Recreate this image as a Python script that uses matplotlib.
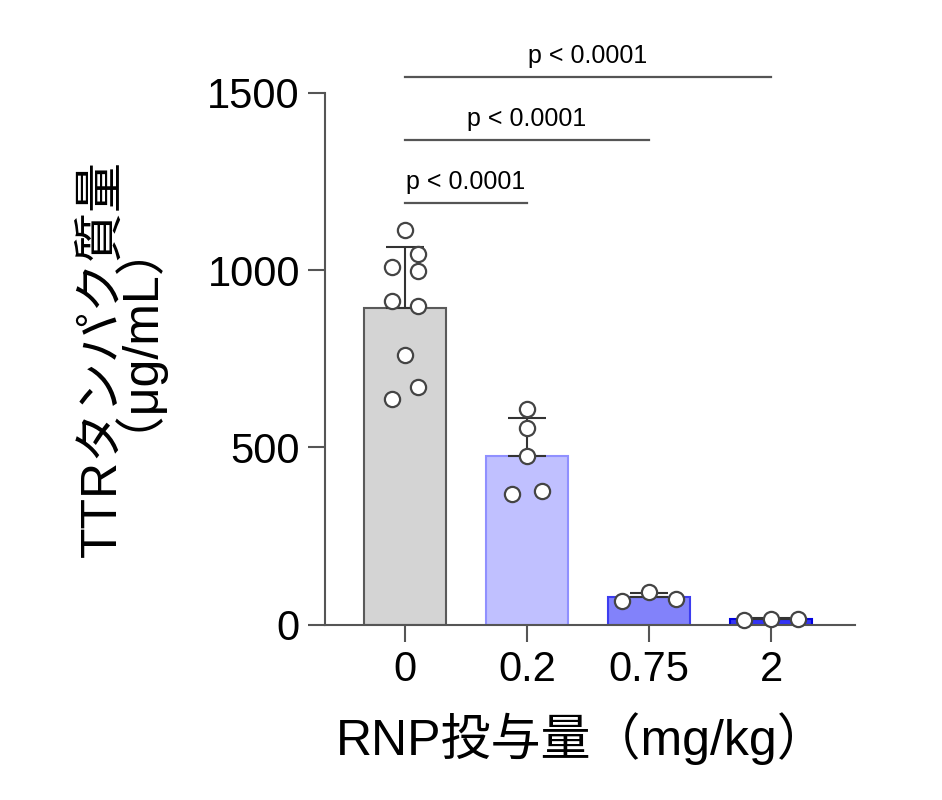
import numpy as np
import matplotlib
matplotlib.use("Agg")
import matplotlib.pyplot as plt

plt.rcParams['font.family'] = ['Liberation Sans', 'Noto Sans CJK JP', 'DejaVu Sans']

# data
doses = ["0", "0.2", "0.75", "2"]
means = [894, 477, 78, 16]
sds = [172, 107, 13, 2]
points = [
    [1113, 1046, 1010, 998, 913, 899, 761, 671, 637],
    [609, 555, 476, 369, 378],
    [68, 93, 73],
    [14, 17, 17],
]
# small horizontal offsets of the dots, in category units
jitter = [
    [0.0, 0.11, -0.11, 0.11, -0.11, 0.11, 0.0, 0.11, -0.11],
    [0.0, 0.0, 0.0, -0.12, 0.12],
    [-0.22, 0.0, 0.22],
    [-0.22, 0.0, 0.22],
]
face_colors = ["#d4d4d4", "#c0c0ff", "#8282fa", "#3434f5"]
edge_colors = ["#5a5a5a", "#9090ff", "#3c3cf0", "#0000e0"]
comparisons = [(0, 1, 1190), (0, 2, 1367), (0, 3, 1545)]
p_text = "p < 0.0001"

fig = plt.figure(figsize=(9.42, 8), dpi=100)
ax = fig.add_axes([0.345, 0.219, 0.563, 0.665])

x = np.arange(len(doses))
ax.bar(x, means, width=0.67, color=face_colors, edgecolor=edge_colors,
       linewidth=1.5, zorder=1)
for i in range(len(doses)):
    ax.errorbar(x[i], means[i], yerr=[[0], [sds[i]]], fmt="none",
                ecolor="#333333", elinewidth=1.5, capsize=14, capthick=1.5,
                zorder=2)
    ax.scatter(x[i] + np.array(jitter[i]), points[i], s=120, facecolor="white",
               edgecolor="#444444", linewidth=1.6, zorder=3, clip_on=False)

for a, b, h in comparisons:
    ax.plot([x[a], x[b]], [h, h], color="#555555", lw=1.6, clip_on=False)
    ax.text((x[a] + x[b]) / 2, h + 25, p_text, ha="center", va="bottom",
            fontsize=18)

ax.set_xlim(-0.656, 3.69)
ax.set_ylim(0, 1500)
ax.set_yticks([0, 500, 1000, 1500])
ax.set_xticks(x)
ax.set_xticklabels(doses)
ax.tick_params(axis="both", labelsize=30, width=1.5, length=12,
               color="#555555", pad=6)
ax.spines[["top", "right"]].set_visible(False)
ax.spines[["left", "bottom"]].set_linewidth(1.5)
ax.spines[["left", "bottom"]].set_color("#555555")

ax.set_xlabel("RNP投与量（mg/kg）", fontsize=36)
ax.xaxis.set_label_coords(0.485, -0.165)

# two-line y label, placed by hand (leading spaces nudge line 2 up a little)
ax.text(-0.379, 0.5, "TTRタンパク質量\n  （μg/mL）", rotation=90, fontsize=36,
        ha="center", va="center", multialignment="center", linespacing=0.775,
        transform=ax.transAxes)

fig.savefig("out.png", dpi=100)
